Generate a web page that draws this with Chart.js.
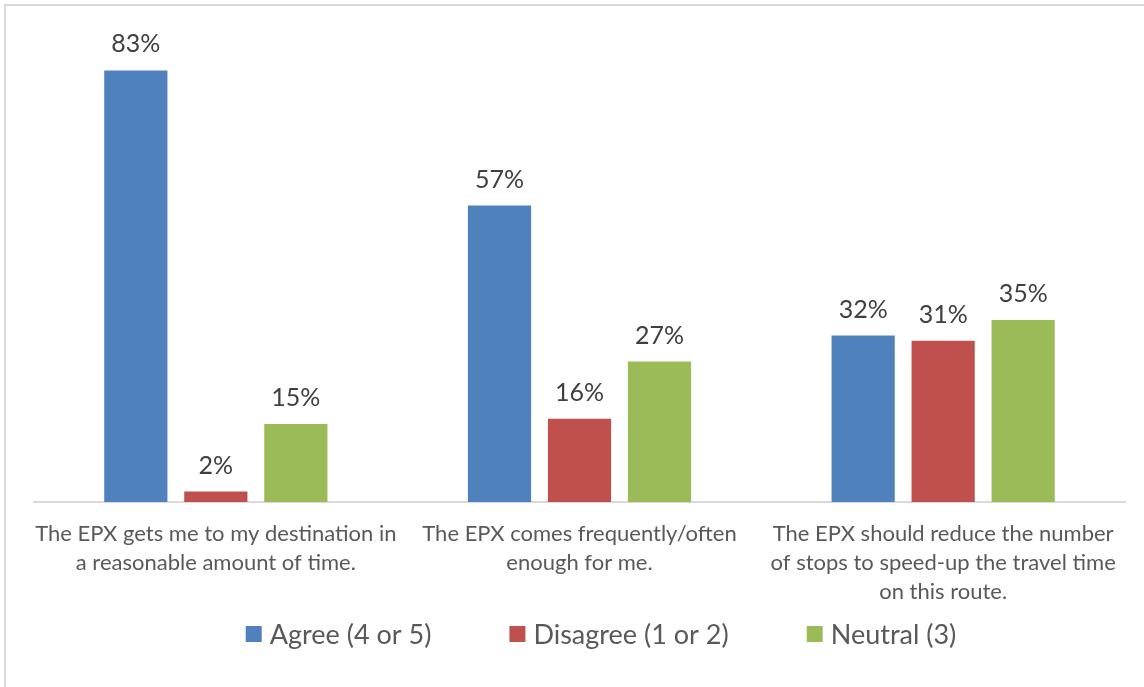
<!DOCTYPE html>
<html>
<head>
<meta charset="utf-8">
<script src="https://cdn.jsdelivr.net/npm/chart.js@4.4.1/dist/chart.umd.min.js"></script>
<style>
  html, body { margin: 0; padding: 0; background: #ffffff; }
  #frame {
    position: absolute; left: 4px; top: 4px; width: 1144px; height: 690px;
    border-left: 2px solid #d9d9d9; border-top: 2px solid #d9d9d9;
    box-sizing: border-box;
  }
  #wrap { position: absolute; left: 0; top: 0; width: 1144px; height: 687px; }
</style>
</head>
<body>
<div id="frame"></div>
<div id="wrap"><canvas id="chart" width="1144" height="687"></canvas></div>
<script>
// Survey statements shown along the category axis (one array entry per line)
const categories = [
  ["The EPX gets me to my destination in", "a reasonable amount of time."],
  ["The EPX comes frequently/often", "enough for me."],
  ["The EPX should reduce the number", "of stops to speed-up the travel time", "on this route."]
];

// Share of respondents (%) for each answer group
const seriesNames = ["Agree (4 or 5)", "Disagree (1 or 2)", "Neutral (3)"];
const agree    = [83, 57, 32];
const disagree = [2, 16, 31];
const neutral  = [15, 27, 35];

const colors = ["#4F81BD", "#C0504D", "#9BBB59"];
const FONT = "Lato, 'Open Sans', sans-serif";

// Percent labels above each bar
const valueLabels = {
  id: "valueLabels",
  afterDatasetsDraw(chart) {
    const ctx = chart.ctx;
    ctx.save();
    ctx.font = "25px " + FONT;
    ctx.fillStyle = "#404040";
    ctx.textAlign = "center";
    ctx.textBaseline = "middle";
    chart.data.datasets.forEach((ds, i) => {
      chart.getDatasetMeta(i).data.forEach((bar, j) => {
        ctx.fillText(ds.data[j] + "%", bar.x, bar.y - 26);
      });
    });
    ctx.restore();
  }
};

// Legend row centred under the axis labels
const bottomLegend = {
  id: "bottomLegend",
  afterDraw(chart) {
    const ctx = chart.ctx;
    const box = 16, textGap = 8, itemGap = 78, y = 634, center = 601;
    ctx.save();
    ctx.font = "27px " + FONT;
    ctx.textBaseline = "middle";
    ctx.textAlign = "left";
    const items = chart.data.datasets.map(ds => ({
      label: ds.label, color: ds.backgroundColor,
      w: box + textGap + ctx.measureText(ds.label).width
    }));
    const total = items.reduce((s, it) => s + it.w, 0) + itemGap * (items.length - 1);
    let x = center - total / 2;
    items.forEach(it => {
      ctx.fillStyle = it.color;
      ctx.fillRect(x, y - box / 2, box, box);
      ctx.fillStyle = "#595959";
      ctx.fillText(it.label, x + box + textGap, y + 1);
      x += it.w + itemGap;
    });
    ctx.restore();
  }
};

new Chart(document.getElementById("chart"), {
  type: "bar",
  data: {
    labels: categories,
    datasets: [
      { label: seriesNames[0], data: agree,    backgroundColor: colors[0] },
      { label: seriesNames[1], data: disagree, backgroundColor: colors[1] },
      { label: seriesNames[2], data: neutral,  backgroundColor: colors[2] }
    ]
  },
  options: {
    responsive: false,
    animation: false,
    events: [],
    categoryPercentage: 0.66,
    barPercentage: 0.79,
    layout: { padding: { left: 34, right: 19, top: 34, bottom: 0 } },
    plugins: { legend: { display: false }, tooltip: { enabled: false } },
    scales: {
      y: { display: false, min: 0, max: 90 },
      x: {
        grid: { display: false, drawTicks: false },
        border: { display: true, color: "#d9d9d9", width: 2 },
        ticks: {
          padding: 17,
          color: "#595959",
          maxRotation: 0,
          autoSkip: false,
          font: { family: FONT, size: 22, lineHeight: 1.32 }
        },
        afterFit(scale) { scale.height = 185; }
      }
    }
  },
  plugins: [valueLabels, bottomLegend]
});
</script>
</body>
</html>
